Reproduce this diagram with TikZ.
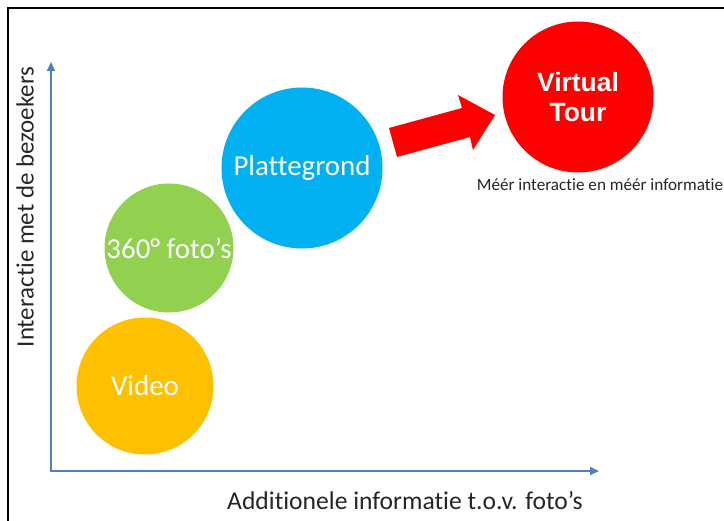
\documentclass[tikz,border=0pt]{standalone}
\usepackage{fontspec}
\setmainfont{Carlito}[Ligatures={NoCommon,NoContextual,NoRequired}, RawFeature=-liga, RawFeature=-clig]
\newfontfamily\arialbold{Liberation Sans}[UprightFont=*-Bold]
\usetikzlibrary{arrows.meta}
\definecolor{axisblue}{RGB}{79,129,189}
\definecolor{cyellow}{RGB}{255,192,0}
\definecolor{cgreen}{RGB}{146,208,80}
\definecolor{cblue}{RGB}{0,176,240}
\definecolor{cred}{RGB}{255,0,0}
\begin{document}
\begin{tikzpicture}[x=1bp,y=-1bp,
  bubble/.style={circle, inner sep=0pt, text=white, align=center},
  bubbletext/.style={font=\fontsize{29}{33}\selectfont},
  axis/.style={draw=axisblue, line width=1.8bp, -{Triangle[length=9bp,width=8bp]}},
  axislabel/.style={text=black!85}]
\useasboundingbox (0,0) rectangle (724,521);
\draw[black, line width=1.5bp] (8,521) -- (8,8) -- (724,8);
% axes
\coordinate (origin) at (51,471);
\coordinate (ytop) at (51,62);
\coordinate (xstart) at (50.1,471);
\coordinate (xend) at (599,471);
\draw[axis] (origin) -- (ytop);
\draw[axis] (xstart) -- (xend);
\node[axislabel, font=\fontsize{25}{29}\selectfont, rotate=90] (ylab) at (25,207) {Interactie met de bezoekers};
\node[axislabel, font=\fontsize{25.7}{29}\selectfont] (xlab) at (405,501) {Additionele informatie t.o.v. foto’s};
% bubbles
\node[bubble, bubbletext, fill=cyellow, minimum size=137bp] (video) at (145,386) {Video};
\node[bubble, bubbletext, fill=cgreen, minimum size=129bp] (foto) at (169,248) {360° foto’s};
\node[bubble, bubbletext, fill=cblue, minimum size=161bp] (plat) at (302,168) {Plattegrond};
\node[bubble, fill=cred, minimum size=151bp, font=\arialbold\fontsize{26.5}{30}\selectfont] (vt) at (578,97) {Virtual\\Tour};
\node[font=\fontsize{17.2}{20}\selectfont, text=black!85] (note) at (600,185) {Méér interactie en méér informatie};
% block arrow
\fill[cred] (389,128) -- (462,108) -- (458,95) -- (495,115) -- (473,150) -- (470,137) -- (397,157) -- cycle;
\end{tikzpicture}
\end{document}
